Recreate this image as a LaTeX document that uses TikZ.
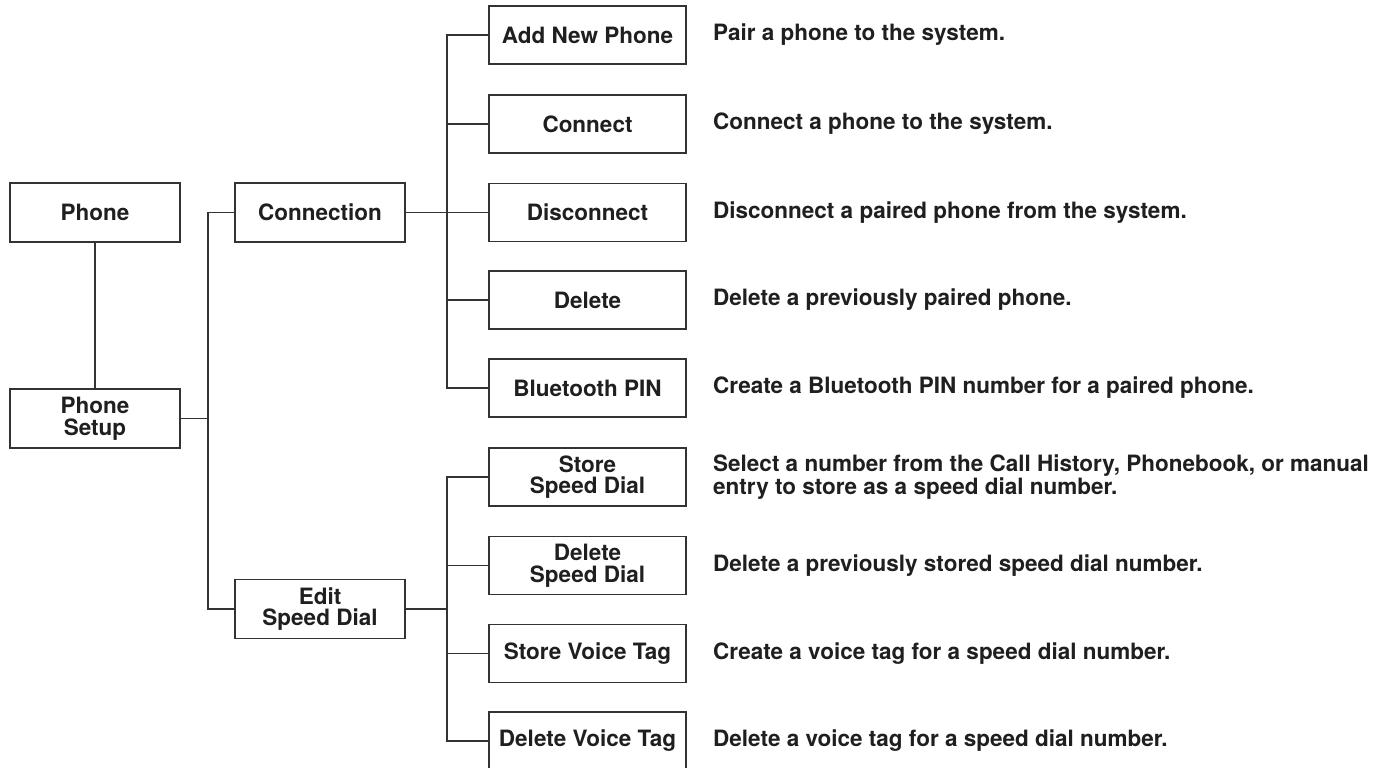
\documentclass[tikz,border=0pt]{standalone}
\usepackage{fontspec}
\setmainfont{TeX Gyre Heros}
\begin{document}
\begin{tikzpicture}[x=1pt,y=-1pt,
  every node/.style={font=\bfseries\fontsize{22.5}{21.5}\selectfont, text=black!88},
  ln/.style={draw=black!80, line width=1.3pt},
  lbox/.style={ln, minimum width=170pt, minimum height=59pt, inner sep=0pt, align=center},
  rbox/.style={ln, minimum width=197pt, minimum height=58pt, inner sep=0pt, align=center},
  desc/.style={anchor=west, align=left, inner sep=0pt}]
\useasboundingbox (0,0) rectangle (1387,768);
\clip (0,0) rectangle (1387,768);
\fill[white] (0,0) rectangle (1387,768);
% left column
\node[lbox] (phone) at (95,212.5) {Phone};
\node[lbox] (setup) at (95,418.5) {Phone\\Setup};
\node[lbox] (conn) at (320,212.5) {Connection};
\node[lbox] (edit) at (320,609) {Edit\\Speed Dial};
% right boxes
\node[rbox] (add) at (587.5,35) {Add New Phone};
\node[rbox] (cnt) at (587.5,124) {Connect};
\node[rbox] (dis) at (587.5,212.5) {Disconnect};
\node[rbox] (del) at (587.5,300) {Delete};
\node[rbox] (pin) at (587.5,388) {Bluetooth PIN};
\node[rbox] (ssd) at (587.5,477) {Store\\Speed Dial};
\node[rbox] (dsd) at (587.5,565.5) {Delete\\Speed Dial};
\node[rbox] (svt) at (587.5,653.5) {Store Voice Tag};
\node[rbox] (dvt) at (587.5,741) {Delete Voice Tag};
% descriptions
\node[desc] (t1) at (713,35) {Pair a phone to the system.};
\node[desc] (t2) at (713,124) {Connect a phone to the system.};
\node[desc] (t3) at (713,212.5) {Disconnect a paired phone from the system.};
\node[desc] (t4) at (713,300) {Delete a previously paired phone.};
\node[desc] (t5) at (713,388) {Create a Bluetooth PIN number for a paired phone.};
\node[desc] (t6) at (713,477) {Select a number from the Call History, Phonebook, or manual\\entry to store as a speed dial number.};
\node[desc] (t7) at (713,565.5) {Delete a previously stored speed dial number.};
\node[desc] (t8) at (713,653.5) {Create a voice tag for a speed dial number.};
\node[desc] (t9) at (713,741) {Delete a voice tag for a speed dial number.};
% buses
\coordinate (busA) at (208,0);
\coordinate (busB) at (447,0);
% connectors
\draw[ln] (phone.south) -- (setup.north);
\draw[ln] (setup.east) -- (setup.east -| busA);
\draw[ln] (conn.west) -- (conn.west -| busA) -- (edit.west -| busA) -- (edit.west);
\draw[ln] (conn.east) -- (conn.east -| busB);
\draw[ln] (add.west) -- (add.west -| busB) -- (pin.west -| busB) -- (pin.west);
\draw[ln] (cnt.west) -- (cnt.west -| busB);
\draw[ln] (dis.west) -- (dis.west -| busB);
\draw[ln] (del.west) -- (del.west -| busB);
\draw[ln] (edit.east) -- (edit.east -| busB);
\draw[ln] (ssd.west) -- (ssd.west -| busB) -- (dvt.west -| busB) -- (dvt.west);
\draw[ln] (dsd.west) -- (dsd.west -| busB);
\draw[ln] (svt.west) -- (svt.west -| busB);
\end{tikzpicture}
\end{document}
